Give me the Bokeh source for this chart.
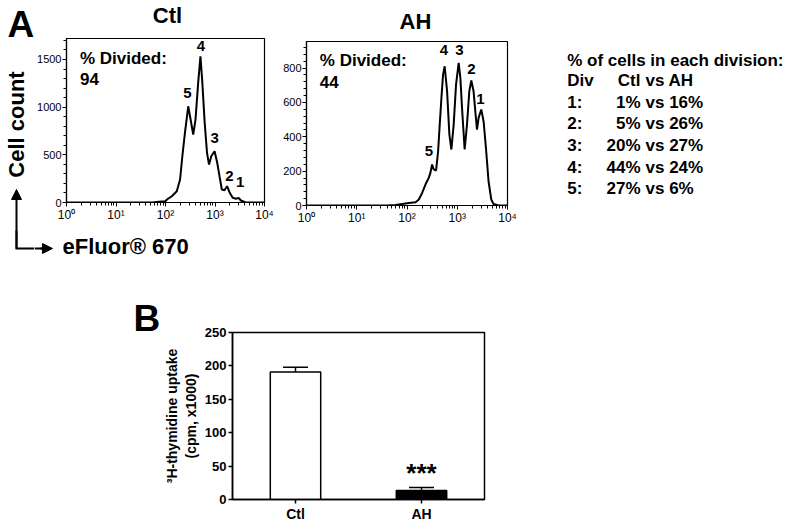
import math
from bokeh.plotting import figure
from bokeh.models import (Range1d, FixedTicker, Arrow, NormalHead, Whisker,
                          TeeHead, ColumnDataSource, FactorRange, Spacer)
from bokeh.layouts import row, column
from bokeh.embed import file_html
from bokeh.resources import INLINE
from bokeh.core.properties import value

FONT = "Liberation Sans"

# ---------------- data ----------------
ctl_fluor = [1, 54, 73, 99, 107, 134, 169, 197, 219, 247, 288, 326, 363, 404, 457, 508, 550, 619,
             690, 757, 841, 980, 1109, 1233, 1374, 1549, 1754, 1986, 2275, 2655, 3006, 3334,
             4198, 8356, 10000]
ctl_count = [0, 0, 8, 12, 31, 66, 118, 241, 485, 730, 1009, 852, 713, 870, 1254, 1533, 1289, 835,
             521, 398, 485, 537, 416, 276, 136, 129, 171, 102, 49, 39, 49, 21, 0, 0, 0]

ah_fluor = [1, 40, 59, 80, 109, 148, 172, 200, 233, 271, 292, 316, 340, 379, 416, 448, 484, 522,
            562, 628, 697, 764, 849, 946, 1067, 1153, 1245, 1403, 1563, 1738, 1905, 2113, 2286,
            2472, 2661, 3006, 3342, 3724, 4198, 4753, 5272, 6622, 10000]
ah_count = [0, 0, 3, 9, 15, 19, 35, 73, 122, 161, 190, 239, 210, 204, 316, 471, 626, 762, 811,
            665, 413, 326, 471, 704, 830, 743, 568, 326, 471, 665, 728, 665, 549, 442, 510, 559,
            491, 335, 141, 35, 9, 0, 0]

peak_names = ["5", "4", "3", "2", "1"]
ctl_peak_x = [277, 520, 980, 1950, 3228]
ctl_peak_y = [1146, 1644, 680, 283, 213]
ah_peak_x = [272, 540, 1109, 1923, 2904]
ah_peak_y = [320, 903, 903, 796, 621]

samples = ["Ctl", "AH"]
pct_divided = [94, 44]

divisions = ["1", "2", "3", "4", "5"]
ctl_div_pct = [1, 5, 20, 44, 27]
ah_div_pct = [16, 26, 27, 24, 6]

uptake = [191, 13.5]
uptake_sem = [7, 4.5]

log_ticks = [1, 10, 100, 1000, 10000]
log_tick_labels = ["10\u2070", "10\u00b9", "10\u00b2", "10\u00b3", "10\u2074"]


def no_align(p):
    try:
        p.frame_align = False
    except Exception:
        pass


def strip(width, height, x0, y0):
    """A plain drawing panel whose data units are page pixels."""
    f = figure(width=width, height=height, x_range=Range1d(x0, x0 + width),
               y_range=Range1d(y0 + height, y0), output_backend="svg",
               toolbar_location=None, title=None,
               x_axis_location=None, y_axis_location=None,
               min_border_left=0, min_border_right=0, min_border_top=0, min_border_bottom=0)
    f.grid.visible = False
    f.outline_line_color = None
    f.background_fill_color = "white"
    f.border_fill_color = "white"
    no_align(f)
    return f


def txt(f, x, y, text, size, align="left", angle=0.0):
    f.text(x=[x], y=[y], text=[text], text_font=value(FONT), text_font_size=size,
           text_font_style="bold", text_color="black", text_align=align,
           text_baseline="middle", angle=angle)


def hist_fig(fx, cy, ymax, yticks, yminor, width, height, bl, br, bt, bb):
    p = figure(width=width, height=height, x_axis_type="log", title=None,
               x_range=Range1d(1, 10000), y_range=Range1d(0, ymax),
               output_backend="svg", toolbar_location=None,
               min_border_left=bl, min_border_right=br, min_border_top=bt, min_border_bottom=bb)
    no_align(p)
    p.line(fx, cy, line_color="black", line_width=2)
    p.xgrid.visible = False
    p.ygrid.visible = False
    p.outline_line_color = "black"
    p.outline_line_width = 1.2
    p.outline_line_alpha = 1
    minor = [m * 10 ** k for k in range(4) for m in range(2, 10)]
    p.xaxis.ticker = FixedTicker(ticks=log_ticks, minor_ticks=minor)
    p.xaxis.major_label_overrides = dict(zip(log_ticks, log_tick_labels))
    p.yaxis.ticker = FixedTicker(ticks=yticks, minor_ticks=yminor)
    for ax in (p.xaxis[0], p.yaxis[0]):
        ax.axis_line_color = "black"
        ax.axis_line_width = 1.2
        ax.major_tick_line_color = "black"
        ax.minor_tick_line_color = "black"
        ax.major_tick_out = 4
        ax.major_tick_in = 0
        ax.minor_tick_out = 3
        ax.minor_tick_in = 0
        ax.major_label_text_font = FONT
        ax.major_label_text_font_size = "12px"
        ax.major_label_text_color = "black"
    p.yaxis.major_label_text_font_size = "11px"
    p.xaxis.major_label_standoff = 1
    p.yaxis.major_label_standoff = 1
    p.background_fill_color = "white"
    p.border_fill_color = "white"
    return p


head = dict(size=10, fill_color="black", line_color="black", line_width=1)

# ---------------- Ctl block (x 0-275, y 0-258) ----------------
left = strip(34, 258, 0, 0)
txt(left, 7, 23.5, "A", "37px")
txt(left, 16, 124, "Cell count", "22px", align="center", angle=math.pi / 2)
left.line(x=[16, 16, 34], y=[230, 248, 248], line_width=2, line_color="black", line_join="miter")
left.add_layout(Arrow(end=NormalHead(**head), x_start=16, y_start=248, x_end=16, y_end=189,
                      line_width=2, line_color="black"))

band_ctl = strip(241, 36, 34, 0)
txt(band_ctl, 167, 15, samples[0], "22px", align="center")

p1 = hist_fig(ctl_fluor, ctl_count, 1720, [0, 500, 1000, 1500], list(range(0, 1701, 100)),
              241, 190, 29, 11, 2, 24)
p1.text(x=ctl_peak_x, y=ctl_peak_y, text=peak_names, text_font=value(FONT),
        text_font_size="15px", text_font_style="bold", text_align="center",
        text_baseline="middle", text_color="black")
p1.text(x=[1.87, 1.87], y=[1513, 1298], text=["% Divided:", str(pct_divided[0])],
        text_font=value(FONT), text_font_size="17px", text_font_style="bold",
        text_align="left", text_baseline="middle", text_color="black")

s_bot = strip(241, 32, 34, 226)
s_bot.line(x=[34, 44], y=[248, 248], line_width=2, line_color="black")
s_bot.add_layout(Arrow(end=NormalHead(**head), x_start=40, y_start=248, x_end=52, y_end=248,
                       line_width=2, line_color="black"))
txt(s_bot, 62, 246, "eFluor\u00ae 670", "22px")

ctl_block = row(left, column(band_ctl, p1, s_bot))

# ---------------- AH block (x 275-520) ----------------
s_ah = strip(245, 36, 275, 0)
txt(s_ah, 415, 20.5, samples[1], "22px", align="center")
p2 = hist_fig(ah_fluor, ah_count, 955, [0, 200, 400, 600, 800], list(range(0, 951, 40)),
              245, 222, 31, 13, 5, 53)
p2.text(x=ah_peak_x, y=ah_peak_y, text=peak_names, text_font=value(FONT),
        text_font_size="15px", text_font_style="bold", text_align="center",
        text_baseline="middle", text_color="black")
p2.text(x=[1.84, 1.84], y=[847, 721], text=["% Divided:", str(pct_divided[1])],
        text_font=value(FONT), text_font_size="17px", text_font_style="bold",
        text_align="left", text_baseline="middle", text_color="black")
ah_block = column(s_ah, p2)

# ---------------- division table (x 520-798) ----------------
pt = strip(278, 258, 520, 0)
row_h = 21.6
rows_y = [101.7 + i * row_h for i in range(len(divisions))]
common = dict(text_font=value(FONT), text_font_size="17px", text_font_style="bold",
              text_baseline="middle", text_color="black")
pt.text(x=[566.7] * (len(divisions) + 2), y=[60, 80] + rows_y,
        text=["% of cells in each division:", "Div"] + [d + ":" for d in divisions],
        text_align="left", **common)
pt.text(x=[640] * (len(divisions) + 1), y=[80] + rows_y,
        text=["Ctl"] + [f"{v}%" for v in ctl_div_pct], text_align="right", **common)
pt.text(x=[645] * (len(divisions) + 1), y=[80] + rows_y,
        text=["vs AH"] + [f"vs {v}%" for v in ah_div_pct], text_align="left", **common)

# ---------------- B: thymidine uptake (x 120-500, y 258-525) ----------------
s_b = strip(40, 267, 120, 258)
txt(s_b, 133, 317.5, "B", "37px")

src = ColumnDataSource(dict(
    group=samples, uptake=uptake,
    lower=uptake, upper=[u + s for u, s in zip(uptake, uptake_sem)],
    fill=["white", "black"]))
p3 = figure(width=340, height=267, x_range=FactorRange(factors=samples, range_padding=0),
            y_range=Range1d(0, 250), output_backend="svg", toolbar_location=None, title=None,
            min_border_left=72, min_border_right=16, min_border_top=74, min_border_bottom=26)
no_align(p3)
p3.vbar(x="group", top="uptake", width=0.4, source=src, fill_color="fill",
        line_color="black", line_width=1.5)
p3.add_layout(Whisker(base="group", upper="upper", lower="lower", source=src,
                      upper_head=TeeHead(size=25, line_width=1.5, line_color="black"),
                      lower_head=None, line_width=1.5, line_color="black"))
p3.text(x=[samples[1]], y=[src.data["upper"][1]], text=["***"], text_font=value(FONT),
        text_font_size="26px", text_font_style="bold", text_align="center",
        text_baseline="middle", y_offset=-14, text_color="black")
p3.xgrid.visible = False
p3.ygrid.visible = False
p3.outline_line_color = "black"
p3.outline_line_width = 1.5
p3.yaxis.ticker = FixedTicker(ticks=[0, 50, 100, 150, 200, 250])
p3.yaxis.axis_label = "\u00b3H-thymidine uptake\n(cpm, x1000)"
p3.yaxis.axis_label_text_font = FONT
p3.yaxis.axis_label_text_font_size = "14px"
p3.yaxis.axis_label_text_font_style = "bold"
p3.yaxis.axis_label_text_color = "black"
p3.yaxis.axis_label_standoff = 3
for ax in (p3.xaxis[0], p3.yaxis[0]):
    ax.axis_line_color = "black"
    ax.axis_line_width = 1.5
    ax.major_tick_line_color = "black"
    ax.major_tick_line_width = 1.5
    ax.major_tick_out = 4
    ax.major_tick_in = 0
    ax.minor_tick_line_color = None
    ax.major_label_text_font = FONT
    ax.major_label_text_font_size = "13px"
    ax.major_label_text_font_style = "bold"
    ax.major_label_text_color = "black"
    ax.major_label_standoff = 2
p3.xaxis.major_label_text_font_size = "14px"

layout = column(row(ctl_block, ah_block, pt),
                row(Spacer(width=120, height=267), s_b, p3))

open("out.html", "w").write(file_html(layout, INLINE))
